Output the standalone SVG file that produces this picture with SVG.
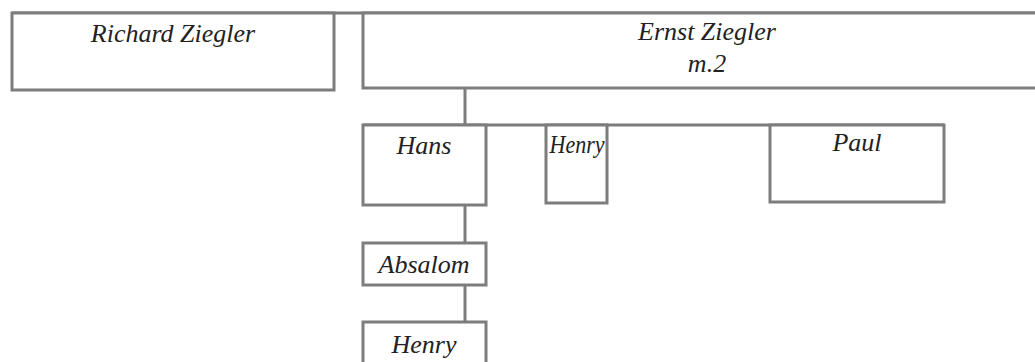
<svg xmlns="http://www.w3.org/2000/svg" width="1035" height="362" viewBox="0 0 1035 362">
<style>
.box{fill:#fff;stroke:#7d7d7d;stroke-width:3}
.ln{stroke:#7d7d7d;stroke-width:3;fill:none}
text{font-family:"Liberation Serif","DejaVu Serif",serif;font-style:italic;font-size:26px;fill:#222;text-anchor:middle}
</style>
<rect width="1035" height="362" fill="#fff"/>
<g id="connectors">
<line class="ln" x1="12" y1="13" x2="1035" y2="13"/>
<line class="ln" x1="465" y1="88" x2="465" y2="125"/>
<line class="ln" x1="363" y1="125" x2="944" y2="125"/>
<line class="ln" x1="465" y1="205" x2="465" y2="243"/>
<line class="ln" x1="465" y1="285" x2="465" y2="322"/>
</g>
<g id="richard"><rect class="box" x="12" y="13" width="322" height="77"/><text x="173" y="42">Richard Ziegler</text></g>
<g id="ernst"><rect class="box" x="363" y="13" width="680" height="75"/><text x="707" y="40">Ernst Ziegler</text><text x="707" y="72">m.2</text></g>
<g id="hans"><rect class="box" x="363" y="125" width="123" height="80"/><text x="424" y="154">Hans</text></g>
<g id="henry1"><rect class="box" x="546" y="125" width="61" height="78"/><text x="577" y="153" textLength="55" lengthAdjust="spacingAndGlyphs">Henry</text></g>
<g id="paul"><rect class="box" x="770" y="125" width="174" height="77"/><text x="857" y="151">Paul</text></g>
<g id="absalom"><rect class="box" x="363" y="243" width="123" height="42"/><text x="424" y="273">Absalom</text></g>
<g id="henry2"><rect class="box" x="363" y="322" width="123" height="50"/><text x="424" y="353">Henry</text></g>
</svg>
